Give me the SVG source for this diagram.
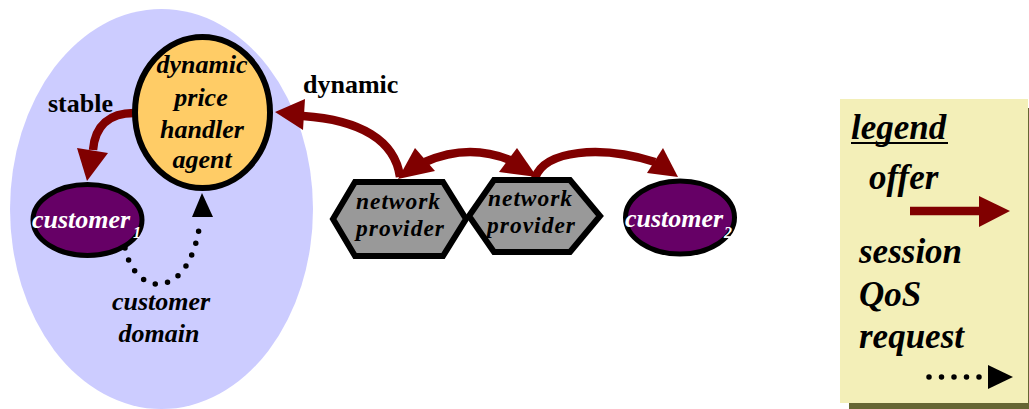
<svg xmlns="http://www.w3.org/2000/svg" width="1029" height="409" viewBox="0 0 1029 409">
  <style>
    .lbl { font-family: "Liberation Serif", "Times New Roman", serif; font-weight: bold; font-style: italic; font-size: 26px; fill: #000; }
    .plain { font-family: "Liberation Serif", "Times New Roman", serif; font-weight: bold; font-size: 26px; fill: #000; }
    .white { fill: #fff; }
    .sub { font-size: 16px; }
    .leg { font-size: 35px; }
    .hx { font-size: 23.5px; }
    .mid { text-anchor: middle; }
    .offer { fill: none; stroke: #800000; stroke-width: 8.5; }
    .head { fill: #800000; }
    .dots { fill: none; stroke: #000; stroke-width: 5.5; stroke-linecap: round; stroke-dasharray: 0 12.5; }
    .cust { fill: #660066; stroke: #000; stroke-width: 5; }
    .hex { fill: #999999; stroke: #000; stroke-width: 6; stroke-linejoin: miter; }
  </style>

  <!-- customer domain background -->
  <g id="customer-domain">
    <ellipse cx="161.5" cy="209" rx="151.5" ry="200" fill="#CCCCFF"/>
    <text class="lbl mid" x="161" y="310">customer</text>
    <text class="lbl mid" x="159" y="342">domain</text>
  </g>

  <!-- connectors -->
  <g id="connectors">
    <!-- stable offer: agent to customer 1 -->
    <path class="offer" d="M 134 113 C 110 113 95 125 93 150"/>
    <polygon class="head" points="77,148 108,153 87,181"/>
    <!-- dynamic offer: network provider to agent -->
    <path class="offer" d="M 400 177 C 395 140 360 120 303 116"/>
    <polygon class="head" points="275,112 305,99 303,130"/>
    <!-- provider to provider, both ways -->
    <path class="offer" d="M 425 162 Q 468 143 510 160"/>
    <polygon class="head" points="398,179 415,148 435,171"/>
    <polygon class="head" points="537,177 517,148 499,172"/>
    <!-- provider to customer 2 -->
    <path class="offer" d="M 535 178 C 545 150 600 145 655 162"/>
    <polygon class="head" points="678,177 663,148 647,173"/>
    <!-- session QoS request: customer 1 to agent -->
    <path class="dots" d="M 125 248 C 135 298 190 302 200 222"/>
    <polygon points="202,193 192,217 213,217" fill="#000"/>
  </g>

  <g id="label-stable">
    <text class="plain" x="48" y="112">stable</text>
  </g>
  <g id="label-dynamic">
    <text class="plain" x="303" y="93">dynamic</text>
  </g>

  <!-- dynamic price handler agent -->
  <g id="agent">
    <ellipse cx="202.5" cy="112.5" rx="67.5" ry="75.5" fill="#FFCC66" stroke="#000" stroke-width="6"/>
    <text class="lbl mid" x="202" y="73">dynamic</text>
    <text class="lbl mid" x="201" y="106">price</text>
    <text class="lbl mid" x="202" y="138">handler</text>
    <text class="lbl mid" x="202" y="168">agent</text>
  </g>

  <!-- customer 1 -->
  <g id="customer1">
    <ellipse class="cust" cx="87.5" cy="220" rx="54.5" ry="35.5"/>
    <text class="lbl white" x="32" y="228">customer</text>
    <text class="lbl white sub" x="133" y="238">1</text>
  </g>

  <!-- network providers -->
  <g id="provider1">
    <polygon class="hex" points="333,219 355,182 443,182 466,219 443,256 355,256"/>
    <text class="lbl hx mid" x="398" y="209" textLength="84">network</text>
    <text class="lbl hx mid" x="400" y="236" textLength="88">provider</text>
  </g>
  <g id="provider2">
    <polygon class="hex" points="469,216 494,180 570,180 600,216 570,252 494,252"/>
    <text class="lbl hx mid" x="530" y="206" textLength="84">network</text>
    <text class="lbl hx mid" x="531" y="233" textLength="88">provider</text>
  </g>

  <!-- customer 2 -->
  <g id="customer2">
    <ellipse class="cust" cx="680" cy="217.5" rx="54.5" ry="36.5"/>
    <text class="lbl white" x="625" y="227">customer</text>
    <text class="lbl white sub" x="724" y="238">2</text>
  </g>

  <!-- legend -->
  <g id="legend">
    <rect x="849" y="108" width="183" height="301" fill="#666633"/>
    <rect x="840" y="99" width="188" height="304" fill="#F3EFB8"/>
    <text class="lbl leg" x="851" y="139">legend</text>
    <rect x="851" y="142" width="97" height="2" fill="#000"/>
    <text class="lbl leg" x="869" y="189">offer</text>
    <path class="offer" d="M 910 211 H 981" stroke-width="10"/>
    <polygon class="head" points="979,196 979,227 1010,211"/>
    <text class="lbl leg" x="859" y="263">session</text>
    <text class="lbl leg" x="859" y="306">QoS</text>
    <text class="lbl leg" x="859" y="348">request</text>
    <path class="dots" d="M 929 377 H 982" stroke-width="6" stroke-dasharray="0 12"/>
    <polygon points="988,365 988,389 1013,377" fill="#000"/>
  </g>
</svg>
